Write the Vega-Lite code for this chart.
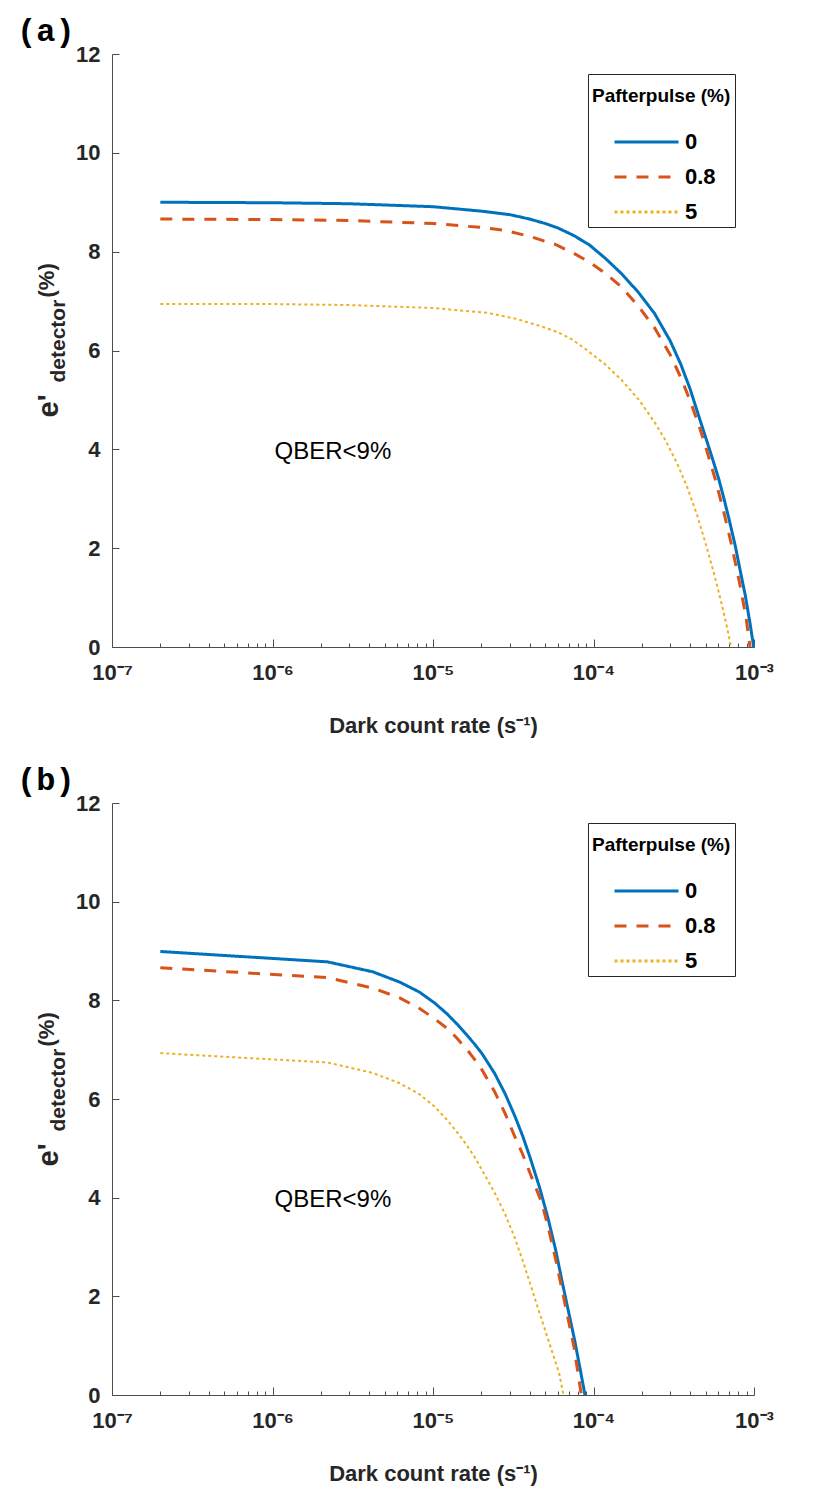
{
  "$schema": "https://vega.github.io/schema/vega-lite/v6.json",
  "background": "white",
  "padding": {"left": 17, "top": 15, "right": 10, "bottom": 5},
  "config": {"view": {"stroke": null}, "font": "Liberation Sans"},
  "datasets": {
    "curves": [
      {"p": "a", "s": "0", "x": 2e-7, "y": 9.0},
      {"p": "a", "s": "0", "x": 1e-6, "y": 8.99},
      {"p": "a", "s": "0", "x": 3e-6, "y": 8.97},
      {"p": "a", "s": "0", "x": 1e-5, "y": 8.91},
      {"p": "a", "s": "0", "x": 2e-5, "y": 8.82},
      {"p": "a", "s": "0", "x": 3e-5, "y": 8.75},
      {"p": "a", "s": "0", "x": 4e-5, "y": 8.66},
      {"p": "a", "s": "0", "x": 5e-5, "y": 8.57},
      {"p": "a", "s": "0", "x": 6e-5, "y": 8.48},
      {"p": "a", "s": "0", "x": 7.5e-5, "y": 8.33},
      {"p": "a", "s": "0", "x": 9.4e-5, "y": 8.14},
      {"p": "a", "s": "0", "x": 1.19e-4, "y": 7.86},
      {"p": "a", "s": "0", "x": 1.5e-4, "y": 7.55},
      {"p": "a", "s": "0", "x": 1.9e-4, "y": 7.18},
      {"p": "a", "s": "0", "x": 2.4e-4, "y": 6.75},
      {"p": "a", "s": "0", "x": 3e-4, "y": 6.2},
      {"p": "a", "s": "0", "x": 3.5e-4, "y": 5.72},
      {"p": "a", "s": "0", "x": 4e-4, "y": 5.22},
      {"p": "a", "s": "0", "x": 4.5e-4, "y": 4.7},
      {"p": "a", "s": "0", "x": 5e-4, "y": 4.24},
      {"p": "a", "s": "0", "x": 5.5e-4, "y": 3.82},
      {"p": "a", "s": "0", "x": 6.03e-4, "y": 3.4},
      {"p": "a", "s": "0", "x": 6.5e-4, "y": 3.0},
      {"p": "a", "s": "0", "x": 7e-4, "y": 2.58},
      {"p": "a", "s": "0", "x": 7.64e-4, "y": 2.05},
      {"p": "a", "s": "0", "x": 8.2e-4, "y": 1.55},
      {"p": "a", "s": "0", "x": 8.83e-4, "y": 1.04},
      {"p": "a", "s": "0", "x": 9.4e-4, "y": 0.52},
      {"p": "a", "s": "0", "x": 9.96e-4, "y": 0},
      {"p": "a", "s": "0.8", "x": 2e-7, "y": 8.66},
      {"p": "a", "s": "0.8", "x": 1e-6, "y": 8.65},
      {"p": "a", "s": "0.8", "x": 3e-6, "y": 8.63},
      {"p": "a", "s": "0.8", "x": 1e-5, "y": 8.57},
      {"p": "a", "s": "0.8", "x": 2e-5, "y": 8.49},
      {"p": "a", "s": "0.8", "x": 2.8e-5, "y": 8.43},
      {"p": "a", "s": "0.8", "x": 4e-5, "y": 8.31},
      {"p": "a", "s": "0.8", "x": 5e-5, "y": 8.21},
      {"p": "a", "s": "0.8", "x": 5.75e-5, "y": 8.15},
      {"p": "a", "s": "0.8", "x": 7.5e-5, "y": 7.97},
      {"p": "a", "s": "0.8", "x": 9.4e-5, "y": 7.79},
      {"p": "a", "s": "0.8", "x": 1.19e-4, "y": 7.56},
      {"p": "a", "s": "0.8", "x": 1.5e-4, "y": 7.28},
      {"p": "a", "s": "0.8", "x": 1.9e-4, "y": 6.9},
      {"p": "a", "s": "0.8", "x": 2.4e-4, "y": 6.46},
      {"p": "a", "s": "0.8", "x": 3e-4, "y": 5.92},
      {"p": "a", "s": "0.8", "x": 3.56e-4, "y": 5.4},
      {"p": "a", "s": "0.8", "x": 4e-4, "y": 4.98},
      {"p": "a", "s": "0.8", "x": 4.5e-4, "y": 4.52},
      {"p": "a", "s": "0.8", "x": 5e-4, "y": 4.05},
      {"p": "a", "s": "0.8", "x": 5.73e-4, "y": 3.4},
      {"p": "a", "s": "0.8", "x": 6.5e-4, "y": 2.72},
      {"p": "a", "s": "0.8", "x": 7.3e-4, "y": 2.02},
      {"p": "a", "s": "0.8", "x": 8.1e-4, "y": 1.32},
      {"p": "a", "s": "0.8", "x": 8.9e-4, "y": 0.62},
      {"p": "a", "s": "0.8", "x": 9.45e-4, "y": 0},
      {"p": "a", "s": "5", "x": 2e-7, "y": 6.94},
      {"p": "a", "s": "5", "x": 1e-6, "y": 6.94},
      {"p": "a", "s": "5", "x": 3e-6, "y": 6.92},
      {"p": "a", "s": "5", "x": 1e-5, "y": 6.86},
      {"p": "a", "s": "5", "x": 2.2e-5, "y": 6.76},
      {"p": "a", "s": "5", "x": 3.3e-5, "y": 6.64},
      {"p": "a", "s": "5", "x": 4.6e-5, "y": 6.5},
      {"p": "a", "s": "5", "x": 6e-5, "y": 6.37},
      {"p": "a", "s": "5", "x": 7.3e-5, "y": 6.23},
      {"p": "a", "s": "5", "x": 9e-5, "y": 6.02},
      {"p": "a", "s": "5", "x": 1.18e-4, "y": 5.72},
      {"p": "a", "s": "5", "x": 1.5e-4, "y": 5.4},
      {"p": "a", "s": "5", "x": 1.92e-4, "y": 5.0},
      {"p": "a", "s": "5", "x": 2.4e-4, "y": 4.55},
      {"p": "a", "s": "5", "x": 2.79e-4, "y": 4.2},
      {"p": "a", "s": "5", "x": 3.3e-4, "y": 3.73},
      {"p": "a", "s": "5", "x": 3.83e-4, "y": 3.24},
      {"p": "a", "s": "5", "x": 4.4e-4, "y": 2.69},
      {"p": "a", "s": "5", "x": 4.97e-4, "y": 2.12},
      {"p": "a", "s": "5", "x": 5.6e-4, "y": 1.52},
      {"p": "a", "s": "5", "x": 6e-4, "y": 1.14},
      {"p": "a", "s": "5", "x": 6.47e-4, "y": 0.7},
      {"p": "a", "s": "5", "x": 6.85e-4, "y": 0.34},
      {"p": "a", "s": "5", "x": 7.19e-4, "y": 0},
      {"p": "b", "s": "0", "x": 2e-7, "y": 8.99},
      {"p": "b", "s": "0", "x": 2.2e-6, "y": 8.78},
      {"p": "b", "s": "0", "x": 4.2e-6, "y": 8.58},
      {"p": "b", "s": "0", "x": 6.2e-6, "y": 8.37},
      {"p": "b", "s": "0", "x": 8.2e-6, "y": 8.17},
      {"p": "b", "s": "0", "x": 1.02e-5, "y": 7.95},
      {"p": "b", "s": "0", "x": 1.22e-5, "y": 7.73},
      {"p": "b", "s": "0", "x": 1.42e-5, "y": 7.51},
      {"p": "b", "s": "0", "x": 1.62e-5, "y": 7.3},
      {"p": "b", "s": "0", "x": 1.82e-5, "y": 7.11},
      {"p": "b", "s": "0", "x": 2.02e-5, "y": 6.92},
      {"p": "b", "s": "0", "x": 2.42e-5, "y": 6.52},
      {"p": "b", "s": "0", "x": 2.82e-5, "y": 6.1},
      {"p": "b", "s": "0", "x": 3.22e-5, "y": 5.67},
      {"p": "b", "s": "0", "x": 3.62e-5, "y": 5.25},
      {"p": "b", "s": "0", "x": 4.02e-5, "y": 4.82},
      {"p": "b", "s": "0", "x": 4.62e-5, "y": 4.2},
      {"p": "b", "s": "0", "x": 5.22e-5, "y": 3.57},
      {"p": "b", "s": "0", "x": 5.82e-5, "y": 2.93},
      {"p": "b", "s": "0", "x": 6.42e-5, "y": 2.25},
      {"p": "b", "s": "0", "x": 7.02e-5, "y": 1.66},
      {"p": "b", "s": "0", "x": 7.62e-5, "y": 1.12},
      {"p": "b", "s": "0", "x": 8.22e-5, "y": 0.56},
      {"p": "b", "s": "0", "x": 8.85e-5, "y": 0},
      {"p": "b", "s": "0.8", "x": 2e-7, "y": 8.66},
      {"p": "b", "s": "0.8", "x": 2.2e-6, "y": 8.46},
      {"p": "b", "s": "0.8", "x": 4.2e-6, "y": 8.25},
      {"p": "b", "s": "0.8", "x": 6.2e-6, "y": 8.05},
      {"p": "b", "s": "0.8", "x": 8.2e-6, "y": 7.84},
      {"p": "b", "s": "0.8", "x": 1.02e-5, "y": 7.63},
      {"p": "b", "s": "0.8", "x": 1.26e-5, "y": 7.4},
      {"p": "b", "s": "0.8", "x": 1.42e-5, "y": 7.22},
      {"p": "b", "s": "0.8", "x": 1.62e-5, "y": 7.01},
      {"p": "b", "s": "0.8", "x": 1.82e-5, "y": 6.8},
      {"p": "b", "s": "0.8", "x": 2.02e-5, "y": 6.59},
      {"p": "b", "s": "0.8", "x": 2.42e-5, "y": 6.15},
      {"p": "b", "s": "0.8", "x": 2.82e-5, "y": 5.7},
      {"p": "b", "s": "0.8", "x": 3.24e-5, "y": 5.23},
      {"p": "b", "s": "0.8", "x": 3.62e-5, "y": 4.88},
      {"p": "b", "s": "0.8", "x": 4.02e-5, "y": 4.5},
      {"p": "b", "s": "0.8", "x": 4.77e-5, "y": 3.89},
      {"p": "b", "s": "0.8", "x": 5.22e-5, "y": 3.4},
      {"p": "b", "s": "0.8", "x": 5.82e-5, "y": 2.74},
      {"p": "b", "s": "0.8", "x": 6.37e-5, "y": 2.13},
      {"p": "b", "s": "0.8", "x": 6.92e-5, "y": 1.57},
      {"p": "b", "s": "0.8", "x": 7.56e-5, "y": 0.97},
      {"p": "b", "s": "0.8", "x": 8.4e-5, "y": 0},
      {"p": "b", "s": "5", "x": 2e-7, "y": 6.93},
      {"p": "b", "s": "5", "x": 2.2e-6, "y": 6.74},
      {"p": "b", "s": "5", "x": 4.2e-6, "y": 6.53},
      {"p": "b", "s": "5", "x": 6.2e-6, "y": 6.32},
      {"p": "b", "s": "5", "x": 8.2e-6, "y": 6.1},
      {"p": "b", "s": "5", "x": 1.02e-5, "y": 5.85},
      {"p": "b", "s": "5", "x": 1.22e-5, "y": 5.58},
      {"p": "b", "s": "5", "x": 1.42e-5, "y": 5.32},
      {"p": "b", "s": "5", "x": 1.62e-5, "y": 5.07},
      {"p": "b", "s": "5", "x": 1.82e-5, "y": 4.82},
      {"p": "b", "s": "5", "x": 2.02e-5, "y": 4.56},
      {"p": "b", "s": "5", "x": 2.42e-5, "y": 4.1},
      {"p": "b", "s": "5", "x": 2.82e-5, "y": 3.66},
      {"p": "b", "s": "5", "x": 3.22e-5, "y": 3.2},
      {"p": "b", "s": "5", "x": 3.62e-5, "y": 2.73},
      {"p": "b", "s": "5", "x": 4.02e-5, "y": 2.27},
      {"p": "b", "s": "5", "x": 4.52e-5, "y": 1.75},
      {"p": "b", "s": "5", "x": 4.99e-5, "y": 1.32},
      {"p": "b", "s": "5", "x": 5.52e-5, "y": 0.88},
      {"p": "b", "s": "5", "x": 6.1e-5, "y": 0.45},
      {"p": "b", "s": "5", "x": 6.5e-5, "y": 0}
    ]
  },
  "spacing": 28,
  "resolve": {"scale": {"x": "independent", "y": "independent", "color": "independent", "strokeDash": "independent"}},
  "vconcat": [
    {
      "title": {"text": "(a)", "anchor": "start", "frame": "group", "dx": -95, "offset": -5, "font": "Liberation Mono", "fontSize": 32, "fontWeight": "bold", "color": "black"},
      "width": 642,
      "height": 593,
      "resolve": {"axis": {"x": "independent", "y": "independent"}},
      "layer": [
        {
          "data": {"name": "curves"},
          "transform": [{"filter": "datum.p === 'a'"}],
          "mark": {"type": "line"},
          "encoding": {
            "x": {"field": "x", "type": "quantitative",
              "scale": {"type": "log", "domain": [1e-7, 1e-3], "nice": false},
              "axis": {"orient": "bottom", "values": [1e-7, 2e-7, 3e-7, 4e-7, 5e-7, 6e-7, 7e-7, 8e-7, 9e-7, 1e-6, 2e-6, 3e-6, 4e-6, 5e-6, 6e-6, 7e-6, 8e-6, 9e-6, 1e-5, 2e-5, 3e-5, 4e-5, 5e-5, 6e-5, 7e-5, 8e-5, 9e-5, 1e-4, 2e-4, 3e-4, 4e-4, 5e-4, 6e-4, 7e-4, 8e-4, 9e-4, 1e-3],
                "labelExpr": "abs(log(datum.value)/LN10 - round(log(datum.value)/LN10)) > 0.001 ? '' : '10⁻' + ['⁰','¹','²','³','⁴','⁵','⁶','⁷','⁸','⁹'][-round(log(datum.value)/LN10)]",
                "tickSize": {"condition": {"test": "abs(log(datum.value)/LN10 - round(log(datum.value)/LN10)) < 0.001", "value": -8}, "value": -4},
                "labelPadding": 23, "labelOverlap": false, "labelFlush": false, "grid": false,
                "labelFont": "Liberation Sans", "labelFontSize": 22, "labelFontWeight": "bold", "labelColor": "#262626",
                "domainColor": "#4d4d4d", "tickColor": "#4d4d4d",
                "title": "Dark count rate (s⁻¹)", "titleFont": "Liberation Sans", "titleFontSize": 22, "titleFontWeight": "bold", "titleColor": "#262626", "titlePadding": 28}},
            "y": {"field": "y", "type": "quantitative",
              "scale": {"domain": [0, 12], "nice": false, "zero": false},
              "axis": {"orient": "left", "values": [0, 2, 4, 6, 8, 10, 12], "tickSize": -7, "labelPadding": 19, "grid": false,
                "labelFont": "Liberation Sans", "labelFontSize": 22, "labelFontWeight": "bold", "labelColor": "#262626",
                "domainColor": "#4d4d4d", "tickColor": "#4d4d4d",
                "title": "e'", "titleX": -55, "titleY": 363, "titleAngle": -90, "titleAlign": "left", "titleBaseline": "alphabetic",
                "titleFont": "Liberation Sans", "titleFontSize": 29, "titleFontWeight": "bold", "titleColor": "#262626"}},
            "color": {"field": "s", "type": "nominal",
              "scale": {"domain": ["0", "0.8", "5"], "range": ["#0072BD", "#D95319", "#EDB120"]},
              "legend": {"orient": "none", "legendX": 476, "legendY": 20, "title": "Pafterpulse (%)",
                "titleFont": "Liberation Sans", "titleFontSize": 19, "titleFontWeight": "bold", "titleColor": "black",
                "titleBaseline": "line-top", "titleLineHeight": 36, "titlePadding": 37,
                "labelFont": "Liberation Sans", "labelFontSize": 22, "labelFontWeight": "bold", "labelColor": "black", "labelOffset": 5,
                "symbolType": "stroke", "symbolSize": 4096, "symbolStrokeWidth": 3, "symbolOffset": 21, "clipHeight": 16, "rowPadding": 13,
                "strokeColor": "#262626", "fillColor": "white", "padding": 4}},
            "strokeDash": {"field": "s", "type": "nominal",
              "scale": {"domain": ["0", "0.8", "5"], "range": [[1, 0], [12, 10], [3, 3]]},
              "legend": {"orient": "none", "legendX": 476, "legendY": 20, "title": "Pafterpulse (%)",
                "titleFont": "Liberation Sans", "titleFontSize": 19, "titleFontWeight": "bold", "titleColor": "black",
                "titleBaseline": "line-top", "titleLineHeight": 36, "titlePadding": 37,
                "labelFont": "Liberation Sans", "labelFontSize": 22, "labelFontWeight": "bold", "labelColor": "black", "labelOffset": 5,
                "symbolType": "stroke", "symbolSize": 4096, "symbolStrokeWidth": 3, "symbolOffset": 21, "clipHeight": 16, "rowPadding": 13,
                "strokeColor": "#262626", "fillColor": "white", "padding": 4}},
            "strokeWidth": {"condition": {"test": "datum.s === '5'", "value": 2}, "value": 3}
          }
        },
        {
          "data": {"values": [{"x": 2.38e-6, "y": 3.94, "t": "QBER<9%"}]},
          "mark": {"type": "text", "font": "Liberation Sans", "fontSize": 24, "color": "black", "align": "center", "baseline": "middle"},
          "encoding": {
            "x": {"field": "x", "type": "quantitative", "axis": null},
            "y": {"field": "y", "type": "quantitative",
              "axis": {"orient": "left", "domain": false, "ticks": false, "labels": false, "grid": false,
                "title": "detector", "titleX": -48, "titleY": 328, "titleAngle": -90, "titleAlign": "left", "titleBaseline": "alphabetic",
                "titleFont": "Liberation Sans", "titleFontSize": 21, "titleFontWeight": "bold", "titleColor": "#262626"}},
            "text": {"field": "t"}
          }
        },
        {
          "data": {"values": [{"x": 2.38e-6, "y": 3.94, "t": ""}]},
          "mark": {"type": "text"},
          "encoding": {
            "x": {"field": "x", "type": "quantitative", "axis": null},
            "y": {"field": "y", "type": "quantitative",
              "axis": {"orient": "left", "domain": false, "ticks": false, "labels": false, "grid": false,
                "title": "(%)", "titleX": -59, "titleY": 243, "titleAngle": -90, "titleAlign": "left", "titleBaseline": "alphabetic",
                "titleFont": "Liberation Sans", "titleFontSize": 22, "titleFontWeight": "bold", "titleColor": "#262626"}},
            "text": {"field": "t"}
          }
        }
      ]
    },
    {
      "title": {"text": "(b)", "anchor": "start", "frame": "group", "dx": -95, "offset": -5, "font": "Liberation Mono", "fontSize": 32, "fontWeight": "bold", "color": "black"},
      "width": 642,
      "height": 592,
      "resolve": {"axis": {"x": "independent", "y": "independent"}},
      "layer": [
        {
          "data": {"name": "curves"},
          "transform": [{"filter": "datum.p === 'b'"}],
          "mark": {"type": "line"},
          "encoding": {
            "x": {"field": "x", "type": "quantitative",
              "scale": {"type": "log", "domain": [1e-7, 1e-3], "nice": false},
              "axis": {"orient": "bottom", "values": [1e-7, 2e-7, 3e-7, 4e-7, 5e-7, 6e-7, 7e-7, 8e-7, 9e-7, 1e-6, 2e-6, 3e-6, 4e-6, 5e-6, 6e-6, 7e-6, 8e-6, 9e-6, 1e-5, 2e-5, 3e-5, 4e-5, 5e-5, 6e-5, 7e-5, 8e-5, 9e-5, 1e-4, 2e-4, 3e-4, 4e-4, 5e-4, 6e-4, 7e-4, 8e-4, 9e-4, 1e-3],
                "labelExpr": "abs(log(datum.value)/LN10 - round(log(datum.value)/LN10)) > 0.001 ? '' : '10⁻' + ['⁰','¹','²','³','⁴','⁵','⁶','⁷','⁸','⁹'][-round(log(datum.value)/LN10)]",
                "tickSize": {"condition": {"test": "abs(log(datum.value)/LN10 - round(log(datum.value)/LN10)) < 0.001", "value": -8}, "value": -4},
                "labelPadding": 23, "labelOverlap": false, "labelFlush": false, "grid": false,
                "labelFont": "Liberation Sans", "labelFontSize": 22, "labelFontWeight": "bold", "labelColor": "#262626",
                "domainColor": "#4d4d4d", "tickColor": "#4d4d4d",
                "title": "Dark count rate (s⁻¹)", "titleFont": "Liberation Sans", "titleFontSize": 22, "titleFontWeight": "bold", "titleColor": "#262626", "titlePadding": 28}},
            "y": {"field": "y", "type": "quantitative",
              "scale": {"domain": [0, 12], "nice": false, "zero": false},
              "axis": {"orient": "left", "values": [0, 2, 4, 6, 8, 10, 12], "tickSize": -7, "labelPadding": 19, "grid": false,
                "labelFont": "Liberation Sans", "labelFontSize": 22, "labelFontWeight": "bold", "labelColor": "#262626",
                "domainColor": "#4d4d4d", "tickColor": "#4d4d4d",
                "title": "e'", "titleX": -55, "titleY": 363, "titleAngle": -90, "titleAlign": "left", "titleBaseline": "alphabetic",
                "titleFont": "Liberation Sans", "titleFontSize": 29, "titleFontWeight": "bold", "titleColor": "#262626"}},
            "color": {"field": "s", "type": "nominal",
              "scale": {"domain": ["0", "0.8", "5"], "range": ["#0072BD", "#D95319", "#EDB120"]},
              "legend": {"orient": "none", "legendX": 476, "legendY": 20, "title": "Pafterpulse (%)",
                "titleFont": "Liberation Sans", "titleFontSize": 19, "titleFontWeight": "bold", "titleColor": "black",
                "titleBaseline": "line-top", "titleLineHeight": 36, "titlePadding": 37,
                "labelFont": "Liberation Sans", "labelFontSize": 22, "labelFontWeight": "bold", "labelColor": "black", "labelOffset": 5,
                "symbolType": "stroke", "symbolSize": 4096, "symbolStrokeWidth": 3, "symbolOffset": 21, "clipHeight": 16, "rowPadding": 13,
                "strokeColor": "#262626", "fillColor": "white", "padding": 4}},
            "strokeDash": {"field": "s", "type": "nominal",
              "scale": {"domain": ["0", "0.8", "5"], "range": [[1, 0], [12, 10], [3, 3]]},
              "legend": {"orient": "none", "legendX": 476, "legendY": 20, "title": "Pafterpulse (%)",
                "titleFont": "Liberation Sans", "titleFontSize": 19, "titleFontWeight": "bold", "titleColor": "black",
                "titleBaseline": "line-top", "titleLineHeight": 36, "titlePadding": 37,
                "labelFont": "Liberation Sans", "labelFontSize": 22, "labelFontWeight": "bold", "labelColor": "black", "labelOffset": 5,
                "symbolType": "stroke", "symbolSize": 4096, "symbolStrokeWidth": 3, "symbolOffset": 21, "clipHeight": 16, "rowPadding": 13,
                "strokeColor": "#262626", "fillColor": "white", "padding": 4}},
            "strokeWidth": {"condition": {"test": "datum.s === '5'", "value": 2}, "value": 3}
          }
        },
        {
          "data": {"values": [{"x": 2.38e-6, "y": 3.95, "t": "QBER<9%"}]},
          "mark": {"type": "text", "font": "Liberation Sans", "fontSize": 24, "color": "black", "align": "center", "baseline": "middle"},
          "encoding": {
            "x": {"field": "x", "type": "quantitative", "axis": null},
            "y": {"field": "y", "type": "quantitative",
              "axis": {"orient": "left", "domain": false, "ticks": false, "labels": false, "grid": false,
                "title": "detector", "titleX": -48, "titleY": 328, "titleAngle": -90, "titleAlign": "left", "titleBaseline": "alphabetic",
                "titleFont": "Liberation Sans", "titleFontSize": 21, "titleFontWeight": "bold", "titleColor": "#262626"}},
            "text": {"field": "t"}
          }
        },
        {
          "data": {"values": [{"x": 2.38e-6, "y": 3.95, "t": ""}]},
          "mark": {"type": "text"},
          "encoding": {
            "x": {"field": "x", "type": "quantitative", "axis": null},
            "y": {"field": "y", "type": "quantitative",
              "axis": {"orient": "left", "domain": false, "ticks": false, "labels": false, "grid": false,
                "title": "(%)", "titleX": -59, "titleY": 243, "titleAngle": -90, "titleAlign": "left", "titleBaseline": "alphabetic",
                "titleFont": "Liberation Sans", "titleFontSize": 22, "titleFontWeight": "bold", "titleColor": "#262626"}},
            "text": {"field": "t"}
          }
        }
      ]
    }
  ]
}
